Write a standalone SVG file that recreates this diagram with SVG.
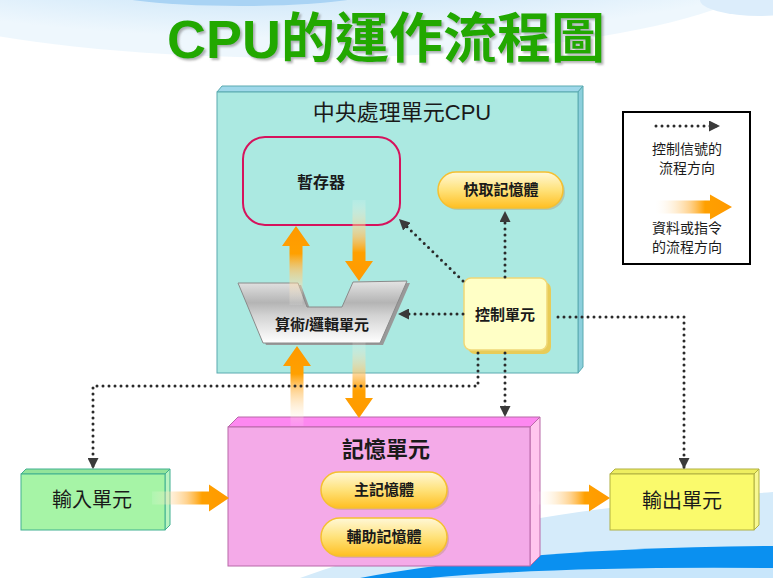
<svg xmlns="http://www.w3.org/2000/svg" width="773" height="578" viewBox="0 0 773 578">
<defs>
<style>
.t{font-family:'Liberation Sans','Noto Sans CJK TC',sans-serif;fill:#1a1a1a;text-anchor:middle}
.b{font-weight:bold}
.dot{fill:none;stroke:#2a2a2a;stroke-width:3;stroke-dasharray:0 6;stroke-linecap:round;stroke-linejoin:round;marker-end:url(#ah)}
.pill{fill:url(#gPill);stroke:#f5c030;stroke-width:1.5}
.pillsh{fill:#b09060;opacity:.35}
</style>
<filter id="tsh" x="-10%" y="-20%" width="120%" height="150%">
<feDropShadow dx="2" dy="2" stdDeviation="1" flood-color="#808080" flood-opacity="0.6"/>
</filter>
<marker id="ah" viewBox="0 0 10 10" refX="10" refY="5" markerWidth="11" markerHeight="11" markerUnits="userSpaceOnUse" orient="auto">
<path d="M0,0 L10,5 L0,10 Z" fill="#3a3a3a"/>
</marker>
<radialGradient id="gSky" cx="0.5" cy="0.3" r="0.6">
<stop offset="0" stop-color="#b8dcf6"/>
<stop offset="0.7" stop-color="#d6ebfa"/>
<stop offset="1" stop-color="#eef7fd"/>
</radialGradient>
<linearGradient id="gPill" x1="0" y1="0" x2="0" y2="1">
<stop offset="0" stop-color="#fff8d8"/>
<stop offset="0.5" stop-color="#ffe27a"/>
<stop offset="1" stop-color="#ffbf22"/>
</linearGradient>
<linearGradient id="gAlu" x1="0" y1="0" x2="0" y2="1">
<stop offset="0" stop-color="#e4e4e4"/>
<stop offset="0.35" stop-color="#b4b4b4"/>
<stop offset="0.55" stop-color="#d2d2d2"/>
<stop offset="1" stop-color="#ffffff"/>
</linearGradient>
<linearGradient id="gUp" x1="0" y1="1" x2="0" y2="0">
<stop offset="0" stop-color="#ffffff" stop-opacity="0.1"/>
<stop offset="0.45" stop-color="#ffc060" stop-opacity="0.7"/>
<stop offset="0.65" stop-color="#ffa000"/>
<stop offset="1" stop-color="#ff9900"/>
</linearGradient>
<linearGradient id="gDown" x1="0" y1="0" x2="0" y2="1">
<stop offset="0" stop-color="#ffffff" stop-opacity="0.1"/>
<stop offset="0.45" stop-color="#ffc060" stop-opacity="0.7"/>
<stop offset="0.65" stop-color="#ffa000"/>
<stop offset="1" stop-color="#ff9900"/>
</linearGradient>
<linearGradient id="gRight" x1="0" y1="0" x2="1" y2="0">
<stop offset="0" stop-color="#ffffff" stop-opacity="0.1"/>
<stop offset="0.45" stop-color="#ffc060" stop-opacity="0.7"/>
<stop offset="0.65" stop-color="#ffa000"/>
<stop offset="1" stop-color="#ff9900"/>
</linearGradient>
</defs>

<!-- background -->
<rect x="0" y="0" width="773" height="578" fill="#ffffff"/>
<ellipse cx="300" cy="-40" rx="480" ry="98" fill="url(#gSky)"/>
<ellipse cx="240" cy="-14" rx="150" ry="20" fill="#a9d3f4"/>
<ellipse cx="760" cy="0" rx="60" ry="16" fill="#dcedfb"/>
<path d="M300,578 Q480,512 773,492 L773,578 Z" fill="#d5ebfa"/>
<path d="M360,578 Q520,548 773,546 L773,578 Z" fill="#0a90f0"/>
<path d="M430,578 Q560,566 773,568 L773,578 Z" fill="#c8e6fb"/>

<!-- title -->
<text class="t b" x="386" y="58" font-size="54" style="fill:#22a800" filter="url(#tsh)">CPU的運作流程圖</text>

<!-- CPU box -->
<g id="cpu">
<polygon points="217,92 222,86 583,86 578,92" fill="#9fd8ea" stroke="#5aaab0" stroke-width="1"/>
<polygon points="578,92 583,86 583,367 578,373" fill="#8ccfdc" stroke="#5aaab0" stroke-width="1"/>
<rect x="217" y="92" width="361" height="281" fill="#abe9e1" stroke="#5aaab0" stroke-width="1"/>
<text class="t" x="402" y="120" font-size="22">中央處理單元CPU</text>
</g>

<g id="register">
<rect x="243" y="137" width="157" height="88" rx="22" fill="none" stroke="#d6125c" stroke-width="2"/>
<text class="t b" x="321" y="188" font-size="16">暫存器</text>
</g>

<g id="cache">
<rect class="pillsh" x="440" y="174" width="125" height="36" rx="18"/>
<rect class="pill" x="438" y="172" width="125" height="36" rx="18"/>
<text class="t b" x="501" y="195" font-size="15">快取記憶體</text>
</g>

<g id="alu">
<polygon points="241,285 301,285 310,309 345,309 356,284 410,283 383,345 266,345" fill="#999999"/>
<polygon points="238,283 298,283 307,307 342,307 353,282 407,281 380,343 263,343" fill="url(#gAlu)" stroke="#8a8a8a" stroke-width="1"/>
<text class="t b" x="322" y="330" font-size="15">算術/邏輯單元</text>
</g>

<g id="control">
<rect x="468" y="282" width="83" height="72" rx="7" fill="#e8cc58"/>
<rect x="464" y="278" width="83" height="72" rx="7" fill="#ffffc6" stroke="#f0d878" stroke-width="1.5"/>
<text class="t b" x="505" y="320" font-size="15">控制單元</text>
</g>

<g id="memory">
<polygon points="228,427 238,417 540,417 530,427" fill="#fd88f0" stroke="#b868a8" stroke-width="1"/>
<polygon points="530,427 540,417 540,556 530,566" fill="#ffc6ee" stroke="#b868a8" stroke-width="1"/>
<rect x="228" y="427" width="302" height="139" fill="#f4aae8" stroke="#b868a8" stroke-width="1"/>
<text class="t b" x="386" y="457" font-size="22">記憶單元</text>
</g>

<g id="main-memory">
<rect class="pillsh" x="323" y="474" width="126" height="36" rx="18"/>
<rect class="pill" x="321" y="472" width="126" height="36" rx="18"/>
<text class="t b" x="384" y="495" font-size="15">主記憶體</text>
</g>

<g id="aux-memory">
<rect class="pillsh" x="323" y="520" width="126" height="38" rx="19"/>
<rect class="pill" x="321" y="518" width="126" height="38" rx="19"/>
<text class="t b" x="384" y="542" font-size="15">輔助記憶體</text>
</g>

<g id="input">
<polygon points="21,474 26,469 170,469 165,474" fill="#92e49a" stroke="#40b090" stroke-width="1"/>
<polygon points="165,474 170,469 170,525 165,530" fill="#b8f4c0" stroke="#40b090" stroke-width="1"/>
<rect x="21" y="474" width="144" height="56" fill="#a6f4a6" stroke="#40b090" stroke-width="1"/>
<text class="t" x="92" y="507" font-size="20">輸入單元</text>
</g>

<g id="output">
<polygon points="610,474 615,469 759,469 754,474" fill="#eeee60" stroke="#b0b040" stroke-width="1"/>
<polygon points="754,474 759,469 759,525 754,530" fill="#f8f890" stroke="#b0b040" stroke-width="1"/>
<rect x="610" y="474" width="144" height="56" fill="#fafa6c" stroke="#b0b040" stroke-width="1"/>
<text class="t" x="682" y="508" font-size="20">輸出單元</text>
</g>

<g id="legend">
<rect x="623" y="112" width="127" height="152" fill="#ffffff" stroke="#000000" stroke-width="2"/>
<path class="dot" d="M656,126 L720,126"/>
<text class="t" x="687" y="154" font-size="14">控制信號的</text>
<text class="t" x="687" y="173" font-size="14">流程方向</text>
<path d="M655,200.5 L710,200.5 L710,194.5 L732,207 L710,219.5 L710,213.5 L655,213.5 Z" fill="url(#gRight)"/>
<text class="t" x="687" y="233" font-size="14">資料或指令</text>
<text class="t" x="687" y="252" font-size="14">的流程方向</text>
</g>

<g id="connectors">
<g id="data-arrows">
<path d="M296,226 L310,246 L302.5,246 L302.5,305 L289.5,305 L289.5,246 L282,246 Z" fill="url(#gUp)"/>
<path d="M359,281 L373,261 L365.5,261 L365.5,200 L352.5,200 L352.5,261 L345,261 Z" fill="url(#gDown)"/>
<path d="M297,346 L311,366 L303.5,366 L303.5,426 L290.5,426 L290.5,366 L283,366 Z" fill="url(#gUp)"/>
<path d="M359,418 L373,398 L365.5,398 L365.5,340 L352.5,340 L352.5,398 L345,398 Z" fill="url(#gDown)"/>
<path d="M152,491.5 L209,491.5 L209,484.5 L229,498 L209,511.5 L209,504.5 L152,504.5 Z" fill="url(#gRight)"/>
<path d="M538,491.5 L589,491.5 L589,484.5 L610,498 L589,511.5 L589,504.5 L538,504.5 Z" fill="url(#gRight)"/>
</g>
<g id="control-signals">
<path class="dot" d="M463,281 L399,219"/>
<path class="dot" d="M505,277 L505,211"/>
<path class="dot" d="M463,314 L398,314"/>
<path class="dot" d="M558,317 L684,317 L684,469"/>
<path class="dot" d="M478,353 L478,386 L93,386 L93,469"/>
<path class="dot" d="M505,353 L505,417"/>
</g>
</g>
</svg>
